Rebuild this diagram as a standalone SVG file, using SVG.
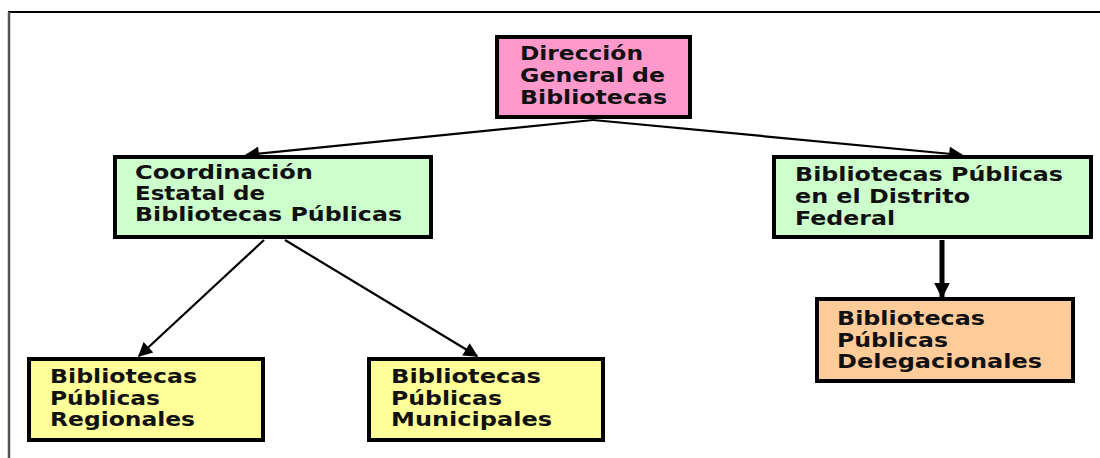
<svg xmlns="http://www.w3.org/2000/svg" width="1100" height="458" viewBox="0 0 1100 458">
<style>
.box{stroke:#000;stroke-width:4}
.t{font-family:"DejaVu Sans",Verdana,sans-serif;font-weight:bold;font-size:19.5px;fill:#111}
.c{stroke:#000;stroke-width:2.2;fill:none}
</style>
<defs>
<marker id="ah" viewBox="0 0 10 10" refX="9" refY="5" markerWidth="8" markerHeight="6.5" orient="auto" markerUnits="strokeWidth">
<path d="M0,0 L10,5 L0,10 z" fill="#000"/>
</marker>
<marker id="ahb" viewBox="0 0 10 10" refX="9" refY="5" markerWidth="3.2" markerHeight="5.2" orient="auto" markerUnits="strokeWidth">
<path d="M0,0 L10,5 L0,10 z" fill="#000"/>
</marker>
</defs>
<rect width="1100" height="458" fill="#fff"/>
<g id="frame">
<line x1="8" y1="12" x2="1100" y2="12" stroke="#000" stroke-width="2"/>
<line x1="9" y1="12" x2="9" y2="458" stroke="#555" stroke-width="2.5"/>
</g>
<g id="connectors">
<line class="c" x1="593" y1="120" x2="246" y2="155" marker-end="url(#ah)"/>
<line class="c" x1="593" y1="120" x2="962" y2="155" marker-end="url(#ah)"/>
<line class="c" x1="264" y1="240" x2="139" y2="356" marker-end="url(#ah)"/>
<line class="c" x1="285" y1="240" x2="477" y2="356" marker-end="url(#ah)"/>
<line x1="942" y1="240" x2="942" y2="297" stroke="#000" stroke-width="5" marker-end="url(#ahb)"/>
</g>
<g id="n-direccion">
<rect class="box" x="497" y="37" width="193" height="80" fill="#FF99CC"/>
<text class="t" x="520" y="60" textLength="123" lengthAdjust="spacingAndGlyphs">Dirección</text>
<text class="t" x="520" y="82" textLength="145" lengthAdjust="spacingAndGlyphs">General de</text>
<text class="t" x="520" y="104" textLength="147" lengthAdjust="spacingAndGlyphs">Bibliotecas</text>
</g>
<g id="n-coordinacion">
<rect class="box" x="115" y="157" width="316" height="80" fill="#CCFFCC"/>
<text class="t" x="135" y="179" textLength="178" lengthAdjust="spacingAndGlyphs">Coordinación</text>
<text class="t" x="135" y="200" textLength="130" lengthAdjust="spacingAndGlyphs">Estatal de</text>
<text class="t" x="135" y="221" textLength="267" lengthAdjust="spacingAndGlyphs">Bibliotecas Públicas</text>
</g>
<g id="n-df">
<rect class="box" x="774" y="157" width="317" height="80" fill="#CCFFCC"/>
<text class="t" x="795" y="181" textLength="268" lengthAdjust="spacingAndGlyphs">Bibliotecas Públicas</text>
<text class="t" x="795" y="203" textLength="175" lengthAdjust="spacingAndGlyphs">en el Distrito</text>
<text class="t" x="795" y="225" textLength="100" lengthAdjust="spacingAndGlyphs">Federal</text>
</g>
<g id="n-regionales">
<rect class="box" x="29" y="359" width="234" height="81" fill="#FFFF99"/>
<text class="t" x="50" y="383" textLength="147" lengthAdjust="spacingAndGlyphs">Bibliotecas</text>
<text class="t" x="50" y="405" textLength="110" lengthAdjust="spacingAndGlyphs">Públicas</text>
<text class="t" x="50" y="426" textLength="145" lengthAdjust="spacingAndGlyphs">Regionales</text>
</g>
<g id="n-municipales">
<rect class="box" x="369" y="359" width="234" height="81" fill="#FFFF99"/>
<text class="t" x="391" y="383" textLength="150" lengthAdjust="spacingAndGlyphs">Bibliotecas</text>
<text class="t" x="391" y="405" textLength="111" lengthAdjust="spacingAndGlyphs">Públicas</text>
<text class="t" x="391" y="426" textLength="161" lengthAdjust="spacingAndGlyphs">Municipales</text>
</g>
<g id="n-delegacionales">
<rect class="box" x="817" y="299" width="256" height="82" fill="#FFCC99"/>
<text class="t" x="837" y="325" textLength="148" lengthAdjust="spacingAndGlyphs">Bibliotecas</text>
<text class="t" x="837" y="347" textLength="111" lengthAdjust="spacingAndGlyphs">Públicas</text>
<text class="t" x="837" y="368" textLength="205" lengthAdjust="spacingAndGlyphs">Delegacionales</text>
</g>
</svg>
